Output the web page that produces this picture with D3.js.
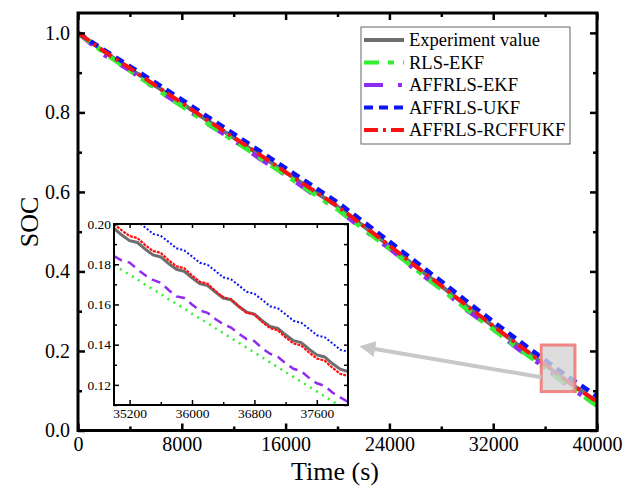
<!DOCTYPE html>
<html><head><meta charset="utf-8">
<script src="https://cdn.jsdelivr.net/npm/d3@7"></script>
<style>
html,body{margin:0;padding:0;background:#fff;}
svg text{font-family:"Liberation Serif","Times New Roman",serif;fill:#000;}
</style></head>
<body><svg id="chart" width="625" height="491"></svg>
<script>
// ---------- data ----------
const seriesNames = ["Experiment value","RLS-EKF","AFFRLS-EKF","AFFRLS-UKF","AFFRLS-RCFFUKF"];
const tMain = [0,2000,4000,6000,8000,10000,12000,14000,16000,18000,20000,22000,24000,26000,28000,30000,32000,34000,36000,38000,40000];
const expMain    = [1.000,0.953,0.910,0.866,0.823,0.779,0.736,0.693,0.649,0.606,0.563,0.514,0.464,0.413,0.363,0.312,0.262,0.213,0.165,0.117,0.073];
const rlsEkfMain = [1.000,0.950,0.905,0.860,0.816,0.772,0.729,0.686,0.642,0.599,0.556,0.507,0.457,0.406,0.355,0.304,0.254,0.205,0.157,0.108,0.062];
const affEkfMain = [1.000,0.945,0.906,0.859,0.817,0.771,0.730,0.684,0.643,0.597,0.557,0.505,0.458,0.404,0.356,0.302,0.255,0.203,0.158,0.106,0.064];
const affUkfMain = [1.000,0.957,0.916,0.874,0.832,0.789,0.746,0.703,0.660,0.617,0.574,0.525,0.475,0.425,0.375,0.324,0.274,0.225,0.177,0.130,0.086];
const rcffMain   = [1.000,0.954,0.911,0.867,0.824,0.780,0.737,0.694,0.650,0.607,0.564,0.515,0.465,0.414,0.364,0.313,0.263,0.214,0.166,0.117,0.072];

const tZoom = [35000,35100,35200,35300,35400,35500,35600,35700,35800,35900,36000,36100,36200,36300,36400,36500,36600,36700,36800,36900,37000,37100,37200,37300,37400,37500,37600,37700,37800,37900,38000];
const expZoom    = [0.1978,0.1945,0.1917,0.1908,0.1875,0.1846,0.1836,0.1803,0.1775,0.1765,0.1732,0.1703,0.1694,0.1661,0.1632,0.1623,0.1590,0.1562,0.1552,0.1519,0.1491,0.1481,0.1449,0.1420,0.1410,0.1378,0.1349,0.1339,0.1306,0.1278,0.1266];
const rlsEkfZoom = [0.1795,0.1772,0.1748,0.1725,0.1698,0.1676,0.1652,0.1626,0.1604,0.1580,0.1554,0.1531,0.1507,0.1482,0.1458,0.1433,0.1410,0.1385,0.1361,0.1337,0.1312,0.1288,0.1264,0.1240,0.1216,0.1192,0.1168,0.1143,0.1119,0.1095,0.1071];
const affEkfZoom = [0.1840,0.1818,0.1808,0.1775,0.1745,0.1722,0.1708,0.1672,0.1640,0.1632,0.1600,0.1570,0.1558,0.1528,0.1502,0.1485,0.1455,0.1428,0.1418,0.1382,0.1355,0.1340,0.1308,0.1280,0.1268,0.1235,0.1208,0.1195,0.1162,0.1138,0.1115];
const affUkfZoom = [0.2085,0.2055,0.2023,0.2013,0.1983,0.1951,0.1941,0.1911,0.1879,0.1869,0.1839,0.1807,0.1797,0.1767,0.1735,0.1725,0.1695,0.1663,0.1653,0.1623,0.1591,0.1581,0.1551,0.1519,0.1509,0.1479,0.1447,0.1437,0.1407,0.1375,0.1365];
const rcffZoom   = [0.2000,0.1968,0.1940,0.1930,0.1895,0.1866,0.1856,0.1820,0.1790,0.1780,0.1744,0.1713,0.1703,0.1667,0.1636,0.1626,0.1590,0.1559,0.1549,0.1513,0.1482,0.1472,0.1436,0.1406,0.1396,0.1361,0.1331,0.1321,0.1285,0.1255,0.1245];

const xTicks = [0,8000,16000,24000,32000,40000];
const xMinor = [4000,12000,20000,28000,36000];
const yTicks = [0,0.2,0.4,0.6,0.8,1.0];
const yMinor = [0.1,0.3,0.5,0.7,0.9];
const zxTicks = [35200,36000,36800,37600];
const zxMinor = [35600,36400,37200];
const zyTicks = [0.12,0.14,0.16,0.18,0.20];
const zyMinor = [0.11,0.13,0.15,0.17,0.19];

// ---------- styles ----------
const colors = ["#6e6e6e","#33ee33","#8f2cf0","#0a14f5","#ff1010"];
const mainDash = [null,"15 9 6 9","19 15 4 15","9 6","14 5 3 5"];
const mainWidth = [4,4.5,4.5,4.5,4];
const zoomDash = [null,"2 5","9 6","2 2","3 1"];
const zoomWidth = [3,2.5,2.5,2,2.2];
const drawOrder = [0,2,1,3,4];

const svg = d3.select("#chart");
const L = 78, R = 597, T = 13, B = 430.5;
const x = d3.scaleLinear().domain([0,40000]).range([L,R]);
const y = d3.scaleLinear().domain([0,1.05]).range([B,T]);

svg.append("defs").append("clipPath").attr("id","clipMain")
  .append("rect").attr("x",L).attr("y",T).attr("width",R-L).attr("height",B-T);

const mainData = [expMain,rlsEkfMain,affEkfMain,affUkfMain,rcffMain];
const line = d3.line().x(d=>x(d[0])).y(d=>y(d[1]));
const gMain = svg.append("g").attr("clip-path","url(#clipMain)");
drawOrder.forEach(i=>{
  gMain.append("path").datum(tMain.map((t,k)=>[t,mainData[i][k]]))
    .attr("d",line).attr("fill","none").attr("stroke",colors[i])
    .attr("stroke-width",mainWidth[i]).attr("stroke-dasharray",mainDash[i]);
});

// axes
function styleAxis(g){ g.select(".domain").remove(); g.selectAll(".tick line").attr("stroke","#000").attr("stroke-width",2.5); }
const fs = 20;
svg.append("g").attr("transform",`translate(0,${B})`)
  .call(d3.axisBottom(x).tickValues(xTicks).tickSize(-7).tickPadding(6).tickFormat(d3.format("d")))
  .call(styleAxis).selectAll("text").attr("font-size",fs);
svg.append("g").attr("transform",`translate(0,${B})`)
  .call(d3.axisBottom(x).tickValues(xMinor).tickSize(-4).tickFormat("")).call(styleAxis);
svg.append("g").attr("transform",`translate(0,${T})`)
  .call(d3.axisTop(x).tickValues(xTicks).tickSize(-7).tickFormat("")).call(styleAxis);
svg.append("g").attr("transform",`translate(0,${T})`)
  .call(d3.axisTop(x).tickValues(xMinor).tickSize(-4).tickFormat("")).call(styleAxis);
svg.append("g").attr("transform",`translate(${L},0)`)
  .call(d3.axisLeft(y).tickValues(yTicks).tickSize(-7).tickPadding(8).tickFormat(d3.format(".1f")))
  .call(styleAxis).selectAll("text").attr("font-size",fs);
svg.append("g").attr("transform",`translate(${L},0)`)
  .call(d3.axisLeft(y).tickValues(yMinor).tickSize(-4).tickFormat("")).call(styleAxis);
svg.append("g").attr("transform",`translate(${R},0)`)
  .call(d3.axisRight(y).tickValues(yTicks).tickSize(-7).tickFormat("")).call(styleAxis);
svg.append("g").attr("transform",`translate(${R},0)`)
  .call(d3.axisRight(y).tickValues(yMinor).tickSize(-4).tickFormat("")).call(styleAxis);
svg.append("rect").attr("x",L).attr("y",T).attr("width",R-L).attr("height",B-T)
  .attr("fill","none").attr("stroke","#000").attr("stroke-width",3);

svg.append("text").attr("x",335).attr("y",480).attr("text-anchor","middle").attr("font-size",26).text("Time (s)");
svg.append("text").attr("transform","translate(38,222) rotate(-90)").attr("text-anchor","middle").attr("font-size",26).text("SOC");

// zoom box on main chart
const box = {t0:35700,t1:38300,s0:0.098,s1:0.215};
svg.append("rect").attr("x",x(box.t0)).attr("y",y(box.s1))
  .attr("width",x(box.t1)-x(box.t0)).attr("height",y(box.s0)-y(box.s1))
  .attr("fill","#d4d4d4").attr("fill-opacity",0.8)
  .attr("stroke","#f07a7a").attr("stroke-width",3).attr("stroke-opacity",0.9);

// arrow
svg.select("defs").append("marker").attr("id","arrowHead").attr("viewBox","0 0 10 10")
  .attr("refX",2).attr("refY",5).attr("markerWidth",4).attr("markerHeight",4)
  .attr("orient","auto").attr("markerUnits","strokeWidth")
  .append("path").attr("d","M0,0 L10,5 L0,10 Z").attr("fill","#c8c8c8");
svg.append("line").attr("x1",x(box.t0)).attr("y1",y(0.134)).attr("x2",372).attr("y2",348.5)
  .attr("stroke","#c8c8c8").attr("stroke-width",4).attr("marker-end","url(#arrowHead)");

// inset
const iL=114,iR=348,iT=224,iB=405;
const zx = d3.scaleLinear().domain([35000,38000]).range([iL,iR]);
const zy = d3.scaleLinear().domain([0.11,0.20]).range([iB,iT]);
svg.append("rect").attr("x",iL).attr("y",iT).attr("width",iR-iL).attr("height",iB-iT).attr("fill","#fff");
svg.select("defs").append("clipPath").attr("id","clipZoom")
  .append("rect").attr("x",iL).attr("y",iT).attr("width",iR-iL).attr("height",iB-iT);
const zoomData = [expZoom,rlsEkfZoom,affEkfZoom,affUkfZoom,rcffZoom];
const zline = d3.line().x(d=>zx(d[0])).y(d=>zy(d[1]));
const gZoom = svg.append("g").attr("clip-path","url(#clipZoom)");
drawOrder.forEach(i=>{
  gZoom.append("path").datum(tZoom.map((t,k)=>[t,zoomData[i][k]]))
    .attr("d",zline).attr("fill","none").attr("stroke",colors[i])
    .attr("stroke-width",zoomWidth[i]).attr("stroke-dasharray",zoomDash[i]);
});
function styleZ(g){ g.select(".domain").remove(); g.selectAll(".tick line").attr("stroke","#000").attr("stroke-width",1.5); }
const zfs = 13.5;
svg.append("g").attr("transform",`translate(0,${iB})`)
  .call(d3.axisBottom(zx).tickValues(zxTicks).tickSize(-5).tickPadding(3).tickFormat(d3.format("d")))
  .call(styleZ).selectAll("text").attr("font-size",zfs);
svg.append("g").attr("transform",`translate(0,${iB})`)
  .call(d3.axisBottom(zx).tickValues(zxMinor).tickSize(-3).tickFormat("")).call(styleZ);
svg.append("g").attr("transform",`translate(0,${iT})`)
  .call(d3.axisTop(zx).tickValues(zxTicks.concat(zxMinor)).tickSize(-4).tickFormat("")).call(styleZ);
svg.append("g").attr("transform",`translate(${iL},0)`)
  .call(d3.axisLeft(zy).tickValues(zyTicks).tickSize(-5).tickPadding(3).tickFormat(d3.format(".2f")))
  .call(styleZ).selectAll("text").attr("font-size",zfs);
svg.append("g").attr("transform",`translate(${iL},0)`)
  .call(d3.axisLeft(zy).tickValues(zyMinor).tickSize(-3).tickFormat("")).call(styleZ);
svg.append("g").attr("transform",`translate(${iR},0)`)
  .call(d3.axisRight(zy).tickValues(zyTicks.concat(zyMinor)).tickSize(-4).tickFormat("")).call(styleZ);
svg.append("rect").attr("x",iL).attr("y",iT).attr("width",iR-iL).attr("height",iB-iT)
  .attr("fill","none").attr("stroke","#000").attr("stroke-width",2);

// legend
const lg = svg.append("g");
lg.append("rect").attr("x",361).attr("y",27).attr("width",209).attr("height",117)
  .attr("fill","#fff").attr("stroke","#666").attr("stroke-width",1);
seriesNames.forEach((name,i)=>{
  const yy = 40 + i*22.5;
  lg.append("line").attr("x1",364).attr("x2",404).attr("y1",yy).attr("y2",yy)
    .attr("stroke",colors[i]).attr("stroke-width",4).attr("stroke-dasharray",mainDash[i]);
  lg.append("text").attr("x",409).attr("y",yy).attr("dy","0.35em").attr("font-size",18.5).text(name);
});
</script></body></html>
